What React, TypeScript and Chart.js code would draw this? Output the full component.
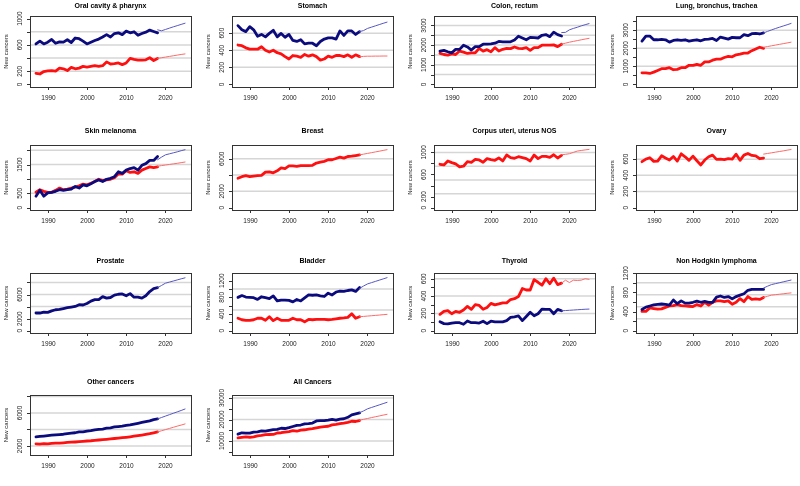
import React, { useEffect, useRef } from "react";
import { Chart, registerables } from "chart.js";
Chart.register(...registerables);

const YEARS = [1987, 1988, 1989, 1990, 1991, 1992, 1993, 1994, 1995, 1996, 1997, 1998, 1999, 2000, 2001, 2002, 2003, 2004, 2005, 2006, 2007, 2008, 2009, 2010, 2011, 2012, 2013, 2014, 2015, 2016, 2017, 2018];
const FC_YEARS = [2018, 2019, 2020, 2021, 2022, 2023, 2024, 2025];
const X_TICKS = [1990, 2000, 2010, 2020];

const oralMale = [615, 658, 615, 642, 684, 626, 647, 642, 679, 637, 705, 694, 658, 615, 642, 668, 689, 721, 757, 721, 773, 784, 757, 810, 784, 800, 747, 773, 794, 826, 805, 784];
const oralMaleFc = [830, 815, 835, 855, 875, 893, 912, 930];
const oralFemale = [168, 158, 195, 205, 210, 200, 247, 237, 210, 258, 237, 247, 274, 263, 274, 284, 274, 284, 342, 310, 316, 326, 300, 326, 395, 379, 368, 368, 374, 405, 363, 395];
const oralFemaleFc = [395, 405, 415, 425, 435, 445, 455, 463];

const stomachMale = [688, 639, 618, 676, 639, 564, 585, 556, 597, 634, 556, 597, 552, 585, 515, 503, 523, 474, 482, 482, 453, 503, 531, 544, 544, 531, 626, 573, 626, 626, 585, 618];
const stomachMaleFc = [618, 630, 655, 670, 685, 700, 715, 729];
const stomachFemale = [461, 453, 428, 412, 412, 412, 441, 400, 379, 400, 371, 358, 325, 297, 338, 330, 317, 350, 330, 346, 325, 284, 297, 330, 317, 338, 338, 325, 346, 317, 346, 325];
const stomachFemaleFc = [322, 328, 330, 330, 331, 331, 332, 332];

const colonMale = [1697, 1732, 1662, 1610, 1785, 1785, 1995, 1907, 1750, 1925, 1925, 2047, 2047, 2065, 2100, 2187, 2170, 2170, 2170, 2257, 2450, 2362, 2275, 2397, 2380, 2362, 2502, 2537, 2432, 2660, 2537, 2467];
const colonMaleFc = [2640, 2650, 2780, 2850, 2910, 2980, 3040, 3097];
const colonFemale = [1575, 1522, 1487, 1557, 1522, 1697, 1645, 1575, 1610, 1610, 1837, 1697, 1767, 1662, 1872, 1697, 1785, 1837, 1820, 1907, 1837, 1820, 1872, 1732, 1872, 1872, 1995, 1995, 1995, 2012, 1925, 2047];
const colonFemaleFc = [2047, 2100, 2150, 2190, 2230, 2270, 2310, 2345];

const lungMale = [2400, 2684, 2684, 2476, 2476, 2495, 2476, 2344, 2438, 2476, 2438, 2476, 2400, 2438, 2476, 2419, 2495, 2514, 2552, 2438, 2627, 2570, 2514, 2608, 2589, 2589, 2759, 2703, 2816, 2835, 2797, 2854];
const lungMaleFc = [2854, 2940, 3020, 3100, 3170, 3240, 3310, 3383];
const lungFemale = [643, 643, 605, 680, 775, 869, 869, 926, 813, 832, 926, 926, 1058, 1058, 1115, 1058, 1247, 1247, 1342, 1399, 1399, 1493, 1550, 1531, 1644, 1682, 1739, 1739, 1871, 1966, 2060, 2003];
const lungFemaleFc = [2060, 2100, 2140, 2180, 2220, 2260, 2300, 2343];

const skinMale = [398, 602, 398, 511, 534, 568, 625, 602, 625, 648, 738, 682, 795, 761, 829, 909, 966, 909, 988, 1022, 1079, 1250, 1193, 1306, 1363, 1397, 1306, 1477, 1534, 1647, 1647, 1783];
const skinMaleFc = [1670, 1760, 1840, 1875, 1910, 1945, 1985, 2020];
const skinFemale = [534, 625, 568, 534, 534, 602, 682, 625, 648, 682, 716, 761, 818, 795, 852, 909, 988, 943, 966, 988, 1045, 1170, 1170, 1284, 1227, 1250, 1193, 1306, 1363, 1420, 1397, 1420];
const skinFemaleFc = [1443, 1465, 1485, 1505, 1525, 1545, 1568, 1590];

const breastFemale = [3600, 3800, 3920, 3800, 3880, 3920, 3960, 4360, 4400, 4280, 4520, 4880, 4800, 5120, 5120, 5080, 5160, 5160, 5160, 5200, 5480, 5600, 5680, 5880, 5880, 6040, 6200, 6080, 6280, 6320, 6400, 6480];
const breastFemaleFc = [6480, 6570, 6660, 6750, 6840, 6930, 7030, 7120];

const corpusFemale = [785, 773, 845, 815, 791, 737, 749, 833, 821, 875, 863, 821, 887, 869, 857, 899, 845, 952, 905, 893, 922, 905, 887, 845, 952, 887, 928, 928, 911, 958, 899, 946];
const corpusFemaleFc = [958, 965, 976, 1000, 1024, 1035, 1045, 1054];

const ovaryFemale = [568, 601, 617, 572, 576, 641, 613, 589, 633, 576, 666, 629, 585, 637, 580, 528, 589, 629, 650, 597, 601, 593, 605, 601, 662, 585, 650, 670, 646, 641, 605, 613];
const ovaryFemaleFc = [662, 670, 678, 686, 694, 702, 711, 719];

const prostateMale = [2940, 2940, 3090, 3040, 3290, 3480, 3530, 3680, 3830, 3930, 4030, 4320, 4270, 4520, 4920, 5160, 5160, 5660, 5410, 5510, 5900, 6050, 6100, 5800, 6150, 5560, 5560, 5410, 5800, 6500, 6990, 7140];
const prostateMaleFc = [7140, 7500, 7880, 8060, 8240, 8420, 8600, 8770];

const bladderMale = [800, 843, 807, 800, 793, 750, 814, 793, 771, 836, 714, 736, 736, 728, 693, 750, 714, 786, 857, 850, 857, 836, 821, 900, 857, 928, 950, 943, 964, 978, 943, 1035];
const bladderMaleFc = [1014, 1070, 1121, 1151, 1181, 1211, 1241, 1271];
const bladderFemale = [300, 264, 250, 250, 264, 300, 300, 250, 336, 243, 300, 250, 250, 250, 300, 264, 264, 214, 271, 264, 271, 271, 271, 264, 271, 286, 300, 307, 321, 407, 300, 336];
const bladderFemaleFc = [336, 344, 352, 360, 368, 376, 385, 393];

const thyroidMale = [103, 82, 79, 89, 93, 93, 75, 113, 93, 93, 89, 110, 82, 110, 103, 103, 103, 117, 154, 161, 172, 117, 165, 213, 172, 196, 250, 247, 247, 196, 247, 230];
const thyroidMaleFc = [230, 233, 236, 239, 242, 245, 248, 250];
const thyroidFemale = [189, 223, 233, 196, 223, 213, 240, 281, 247, 302, 292, 247, 268, 316, 298, 309, 322, 322, 360, 370, 394, 487, 470, 470, 590, 559, 525, 600, 542, 607, 532, 549];
const thyroidFemaleFc = [549, 583, 556, 583, 580, 583, 600, 593];

const nhlMale = [446, 494, 518, 541, 553, 559, 553, 535, 643, 565, 625, 577, 577, 595, 619, 595, 613, 595, 595, 702, 726, 696, 714, 666, 714, 744, 773, 845, 863, 863, 863, 863];
const nhlMaleFc = [893, 930, 964, 983, 1002, 1021, 1040, 1059];
const nhlFemale = [405, 405, 476, 464, 452, 458, 488, 518, 524, 547, 524, 518, 512, 506, 547, 518, 595, 535, 595, 625, 625, 607, 625, 553, 595, 672, 607, 714, 655, 666, 655, 696];
const nhlFemaleFc = [696, 720, 744, 753, 763, 772, 782, 791];

const otherMale = [3100, 3150, 3200, 3250, 3300, 3350, 3380, 3420, 3500, 3550, 3600, 3700, 3700, 3800, 3850, 3950, 4000, 4050, 4150, 4200, 4300, 4350, 4400, 4500, 4550, 4650, 4750, 4850, 4950, 5050, 5200, 5270];
const otherMaleFc = [5270, 5450, 5620, 5790, 5960, 6130, 6300, 6480];
const otherFemale = [2250, 2230, 2280, 2260, 2300, 2330, 2350, 2380, 2420, 2450, 2480, 2520, 2560, 2600, 2630, 2680, 2720, 2760, 2800, 2850, 2900, 2950, 3000, 3050, 3110, 3180, 3250, 3320, 3400, 3480, 3590, 3700];
const otherFemaleFc = [3700, 3840, 3980, 4120, 4260, 4400, 4530, 4670];

const allMale = [13187, 13824, 13671, 13635, 14147, 14270, 14680, 14592, 14926, 15294, 15420, 15939, 15817, 16217, 16747, 17244, 17433, 17996, 18115, 18343, 19337, 19518, 19470, 19744, 20103, 19757, 20223, 20358, 21026, 22181, 22614, 23044];
const allMaleFc = [23159, 23978, 24951, 25573, 26175, 26785, 27391, 27989];
const allFemale = [11478, 11697, 11904, 11745, 11939, 12379, 12584, 12974, 13041, 13055, 13732, 13854, 14104, 14373, 14783, 14556, 15106, 15233, 15541, 15749, 16115, 16506, 16727, 16866, 17515, 17730, 18093, 18352, 18704, 19199, 19072, 19510];
const allFemaleFc = [19648, 20090, 20466, 20882, 21270, 21649, 22048, 22413];

type Spec = {
  title: string; col: number; row: number; yMin: number; yMax: number;
  ticks: number[]; labels: number[]; grid: number[];
  male?: number[]; maleFc?: number[]; female?: number[]; femaleFc?: number[];
};

const PANELS: Spec[] = [
  { title: "Oral cavity & pharynx", col: 0, row: 0, yMin: -40, yMax: 1040, ticks: [0, 200, 400, 600, 800, 1000], labels: [0, 200, 600, 1000], grid: [200, 400, 600, 800], male: oralMale, maleFc: oralMaleFc, female: oralFemale, femaleFc: oralFemaleFc },
  { title: "Stomach", col: 1, row: 0, yMin: -31, yMax: 801, ticks: [0, 200, 400, 600], labels: [0, 200, 400, 600], grid: [200, 400, 600], male: stomachMale, maleFc: stomachMaleFc, female: stomachFemale, femaleFc: stomachFemaleFc },
  { title: "Colon, rectum", col: 2, row: 0, yMin: -134, yMax: 3484, ticks: [0, 500, 1000, 1500, 2000, 2500, 3000], labels: [0, 1000, 2000, 3000], grid: [500, 1000, 1500, 2000, 2500, 3000], male: colonMale, maleFc: colonMaleFc, female: colonFemale, femaleFc: colonFemaleFc },
  { title: "Lung, bronchus, trachea", col: 3, row: 0, yMin: -146, yMax: 3796, ticks: [0, 500, 1000, 1500, 2000, 2500, 3000, 3500], labels: [0, 1000, 2000, 3000], grid: [1000, 2000, 3000], male: lungMale, maleFc: lungMaleFc, female: lungFemale, femaleFc: lungFemaleFc },
  { title: "Skin melanoma", col: 0, row: 1, yMin: -84, yMax: 2184, ticks: [0, 500, 1000, 1500, 2000], labels: [0, 500, 1500], grid: [500, 1000, 1500, 2000], male: skinMale, maleFc: skinMaleFc, female: skinFemale, femaleFc: skinFemaleFc },
  { title: "Breast", col: 1, row: 1, yMin: -296, yMax: 7696, ticks: [0, 2000, 4000, 6000], labels: [0, 2000, 6000], grid: [2000, 4000, 6000], female: breastFemale, femaleFc: breastFemaleFc },
  { title: "Corpus uteri, uterus NOS", col: 2, row: 1, yMin: -44, yMax: 1134, ticks: [0, 200, 400, 600, 800, 1000], labels: [0, 200, 600, 1000], grid: [250, 500, 750, 1000], female: corpusFemale, femaleFc: corpusFemaleFc },
  { title: "Ovary", col: 3, row: 1, yMin: -30, yMax: 775, ticks: [0, 200, 400, 600], labels: [0, 200, 400, 600], grid: [200, 400, 600], female: ovaryFemale, femaleFc: ovaryFemaleFc },
  { title: "Prostate", col: 0, row: 2, yMin: -368, yMax: 9568, ticks: [0, 2000, 4000, 6000, 8000], labels: [0, 2000, 6000], grid: [2000, 4000, 6000, 8000], male: prostateMale, maleFc: prostateMaleFc },
  { title: "Bladder", col: 1, row: 2, yMin: -53, yMax: 1383, ticks: [0, 200, 400, 600, 800, 1000, 1200], labels: [0, 400, 800, 1200], grid: [500, 1000], male: bladderMale, maleFc: bladderMaleFc, female: bladderFemale, femaleFc: bladderFemaleFc },
  { title: "Thyroid", col: 2, row: 2, yMin: -26, yMax: 666, ticks: [0, 100, 200, 300, 400, 500, 600], labels: [0, 200, 400, 600], grid: [200, 400, 600], male: thyroidMale, maleFc: thyroidMaleFc, female: thyroidFemale, femaleFc: thyroidFemaleFc },
  { title: "Non Hodgkin lymphoma", col: 3, row: 2, yMin: -46, yMax: 1206, ticks: [0, 200, 400, 600, 800, 1000, 1200], labels: [0, 400, 800, 1200], grid: [250, 500, 750, 1000], male: nhlMale, maleFc: nhlMaleFc, female: nhlFemale, femaleFc: nhlFemaleFc },
  { title: "Other cancers", col: 0, row: 3, yMin: 900, yMax: 8180, ticks: [2000, 4000, 6000, 8000], labels: [2000, 6000], grid: [2000, 4000, 6000, 8000], male: otherMale, maleFc: otherMaleFc, female: otherFemale, femaleFc: otherFemaleFc },
  { title: "All Cancers", col: 1, row: 3, yMin: 3500, yMax: 31400, ticks: [5000, 10000, 15000, 20000, 25000, 30000], labels: [10000, 20000, 30000], grid: [10000, 20000, 30000], male: allMale, maleFc: allMaleFc, female: allFemale, femaleFc: allFemaleFc },
];

const COL_LEFT = [0, 202, 404, 606];
const BOX_TOP = [16, 145, 273, 395];
const BOX_BOTTOM = [87, 210, 333, 455];
const TITLE_OFF = [10, 14, 12, 13];
const PAD_L = 30;
const BOX_W = 161;
const PAD_T = 20;
const PAD_B = 26;
const CW = 200;
const X_MIN = 1987 - 0.04 * 38;
const X_MAX = 2025 + 0.04 * 38;

const MALE = "#0b0b7e";
const MALE_FC = "#5757c4";
const FEMALE = "#ff1010";
const FEMALE_FC = "#ff6a6a";
const FONT = "'Liberation Sans', Arial, sans-serif";

function pts(xs: number[], ys: number[]) {
  return ys.map((v, i) => ({ x: xs[i], y: v }));
}

function decor(spec: Spec) {
  return {
    id: "decor",
    beforeDatasetsDraw(chart: any) {
      const { ctx, chartArea: a, scales } = chart;
      ctx.save();
      ctx.strokeStyle = "#d6d6d6";
      ctx.lineWidth = 1.5;
      for (const g of spec.grid) {
        const y = scales.y.getPixelForValue(g);
        ctx.beginPath();
        ctx.moveTo(a.left, y);
        ctx.lineTo(a.right, y);
        ctx.stroke();
      }
      ctx.restore();
    },
    afterDraw(chart: any) {
      const { ctx, chartArea: a, scales } = chart;
      ctx.save();
      ctx.strokeStyle = "#333";
      ctx.lineWidth = 1;
      ctx.strokeRect(Math.round(a.left) + 0.5, Math.round(a.top) + 0.5, Math.round(a.right - a.left), Math.round(a.bottom - a.top));
      ctx.fillStyle = "#222";
      ctx.font = `6.5px ${FONT}`;
      ctx.textAlign = "center";
      ctx.textBaseline = "middle";
      for (const t of X_TICKS) {
        const x = Math.round(scales.x.getPixelForValue(t)) + 0.5;
        ctx.beginPath();
        ctx.moveTo(x, a.bottom);
        ctx.lineTo(x, a.bottom + 3);
        ctx.stroke();
        ctx.fillText(String(t), x, a.bottom + 11);
      }
      for (const t of spec.ticks) {
        const y = Math.round(scales.y.getPixelForValue(t)) + 0.5;
        ctx.beginPath();
        ctx.moveTo(a.left - 3, y);
        ctx.lineTo(a.left, y);
        ctx.stroke();
      }
      for (const t of spec.labels) {
        const y = scales.y.getPixelForValue(t);
        ctx.save();
        ctx.translate(a.left - 10, y);
        ctx.rotate(-Math.PI / 2);
        ctx.fillText(String(t), 0, 0);
        ctx.restore();
      }
      ctx.save();
      ctx.font = `6px ${FONT}`;
      ctx.translate(a.left - 24, (a.top + a.bottom) / 2);
      ctx.rotate(-Math.PI / 2);
      ctx.fillText("New cancers", 0, 0);
      ctx.restore();
      ctx.font = `bold 7px ${FONT}`;
      ctx.fillStyle = "#000";
      ctx.fillText(spec.title, (a.left + a.right) / 2, a.top - TITLE_OFF[spec.row]);
      ctx.restore();
    },
  };
}

function Panel({ spec }: { spec: Spec }) {
  const ref = useRef<HTMLCanvasElement>(null);
  const boxH = BOX_BOTTOM[spec.row] - BOX_TOP[spec.row];
  const H = PAD_T + boxH + PAD_B;
  useEffect(() => {
    const datasets: any[] = [];
    const mk = (xs: number[], ys: number[] | undefined, color: string, w: number) => {
      if (!ys) return;
      datasets.push({ data: pts(xs, ys), borderColor: color, borderWidth: w, pointRadius: 0, fill: false, tension: 0 });
    };
    mk(FC_YEARS, spec.maleFc, MALE_FC, 1);
    mk(FC_YEARS, spec.femaleFc, FEMALE_FC, 1);
    mk(YEARS, spec.male, MALE, 2.8);
    mk(YEARS, spec.female, FEMALE, 2.8);
    const chart = new Chart(ref.current!, {
      type: "line",
      data: { datasets },
      options: {
        animation: false,
        responsive: false,
        maintainAspectRatio: false,
        devicePixelRatio: 1,
        layout: { padding: { left: PAD_L, right: CW - PAD_L - BOX_W, top: PAD_T, bottom: PAD_B } },
        scales: {
          x: { type: "linear", min: X_MIN, max: X_MAX, display: false },
          y: { type: "linear", min: spec.yMin, max: spec.yMax, display: false },
        },
        plugins: { legend: { display: false }, tooltip: { enabled: false }, title: { display: false } },
        elements: { point: { radius: 0 }, line: { borderCapStyle: "round", borderJoinStyle: "round" } },
      } as any,
      plugins: [decor(spec) as any],
    });
    return () => chart.destroy();
  }, []);
  return (
    <canvas
      ref={ref}
      width={CW}
      height={H}
      style={{ position: "absolute", left: COL_LEFT[spec.col], top: BOX_TOP[spec.row] - PAD_T, width: CW, height: H }}
    />
  );
}

export default function App() {
  return (
    <div style={{ position: "fixed", left: 0, top: 0, width: 800, height: 486, overflow: "hidden", background: "#fff" }}>
      {PANELS.map((p) => (
        <Panel key={p.title} spec={p} />
      ))}
    </div>
  );
}
